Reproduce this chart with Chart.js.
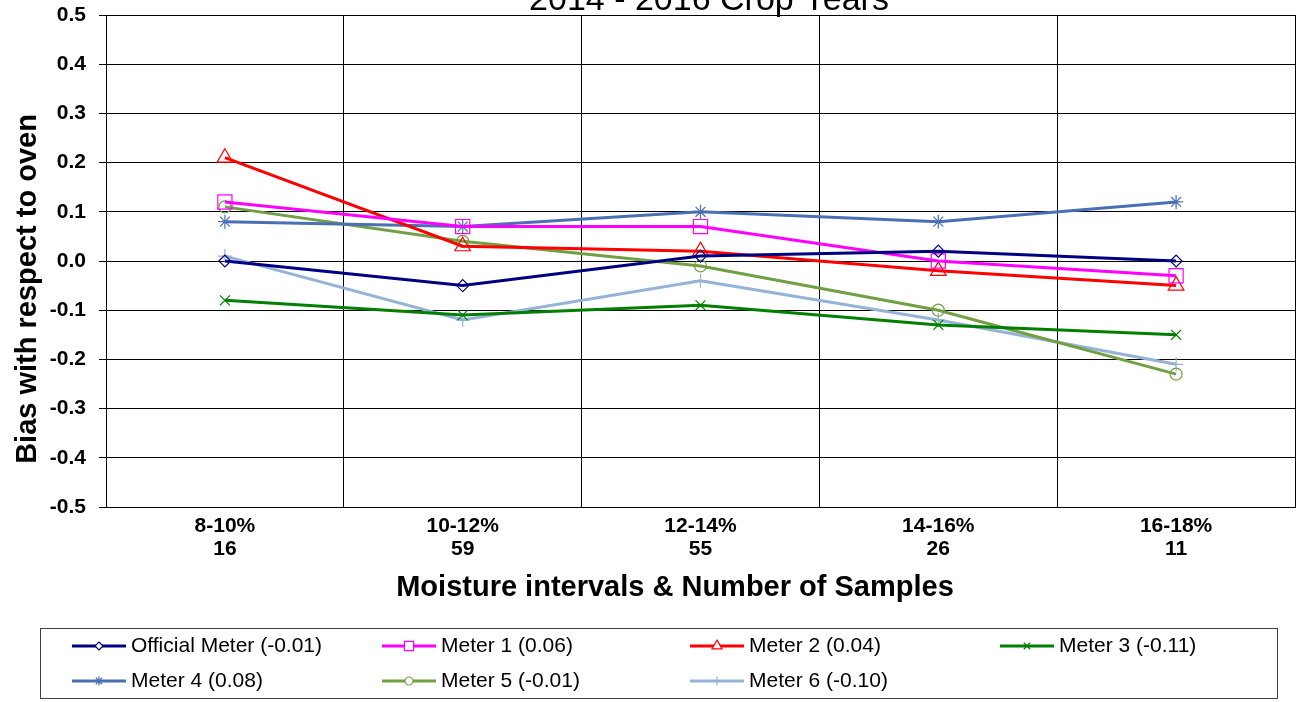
<!DOCTYPE html>
<html>
<head>
<meta charset="utf-8">
<script src="https://cdn.jsdelivr.net/npm/chart.js@4/dist/chart.umd.min.js"></script>
<style>
  html, body { margin: 0; padding: 0; background: #fff; }
  #wrap { width: 1297px; height: 702px; }
</style>
</head>
<body>
<div id="wrap"><canvas id="myChart" width="1297" height="702"></canvas></div>
<script>
// chart data
const moistureRanges = ["8-10%", "10-12%", "12-14%", "14-16%", "16-18%"];
const sampleCounts = ["16", "59", "55", "26", "11"];
const meterNames = ["Official Meter", "Meter 1", "Meter 2", "Meter 3", "Meter 4", "Meter 5", "Meter 6"];
const meterAvgBias = ["-0.01", "0.06", "0.04", "-0.11", "0.08", "-0.01", "-0.10"];

const officialMeter = [0.00, -0.05, 0.01, 0.02, 0.00];
const meter1 = [0.12, 0.07, 0.07, 0.00, -0.03];
const meter2 = [0.21, 0.03, 0.02, -0.02, -0.05];
const meter3 = [-0.08, -0.11, -0.09, -0.13, -0.15];
const meter4 = [0.08, 0.07, 0.10, 0.08, 0.12];
const meter5 = [0.11, 0.04, -0.01, -0.10, -0.23];
const meter6 = [0.01, -0.12, -0.04, -0.12, -0.21];

const yTicks = [0.5, 0.4, 0.3, 0.2, 0.1, 0.0, -0.1, -0.2, -0.3, -0.4, -0.5];

const FONT = "'Liberation Sans', Arial, sans-serif";

// line styles per meter
const styles = [
  { color: "#000080", point: "rectRot", radius: 6 },
  { color: "#FF00FF", point: "rect", radius: 10 },
  { color: "#FF0000", point: "triangle", radius: 9 },
  { color: "#008000", point: "crossRot", radius: 7 },
  { color: "#4A6FB5", point: "star", radius: 7 },
  { color: "#71A044", point: "circle", radius: 6 },
  { color: "#95B3D7", point: "cross", radius: 7 },
];

const seriesData = [officialMeter, meter1, meter2, meter3, meter4, meter5, meter6];

const datasets = seriesData.map(function (values, i) {
  return {
    label: meterNames[i] + " (" + meterAvgBias[i] + ")",
    data: values,
    borderColor: styles[i].color,
    backgroundColor: "transparent",
    borderWidth: 3,
    pointStyle: styles[i].point,
    pointRadius: styles[i].radius,
    pointBorderColor: styles[i].color,
    pointBackgroundColor: "transparent",
    pointBorderWidth: 1.2,
    tension: 0,
    fill: false,
  };
});

// draws the cut-off heading, the axis titles and the boxed legend
const extrasPlugin = {
  id: "extras",
  afterDraw(chart) {
    const ctx = chart.ctx;
    ctx.save();
    // heading, partly above the canvas like the reference
    ctx.fillStyle = "#000";
    ctx.font = "34px " + FONT;
    ctx.textAlign = "center";
    ctx.textBaseline = "alphabetic";
    ctx.fillText("2014 - 2016 Crop Years", 709, 10);

    // x axis title
    ctx.font = "bold 29px " + FONT;
    ctx.textBaseline = "middle";
    ctx.fillText("Moisture intervals & Number of Samples", 675, 588);

    // y axis title
    ctx.save();
    ctx.translate(28, 289);
    ctx.rotate(-Math.PI / 2);
    ctx.fillText("Bias with respect to oven", 0, 0);
    ctx.restore();

    // legend box
    ctx.strokeStyle = "#404040";
    ctx.lineWidth = 1;
    ctx.strokeRect(40.5, 628.5, 1237, 70);

    const colX = [72, 382, 690, 1000];
    const rowY = [646, 681];
    chart.data.datasets.forEach(function (ds, i) {
      const x = colX[i % 4];
      const y = rowY[Math.floor(i / 4)];
      ctx.strokeStyle = ds.borderColor;
      ctx.lineWidth = 3;
      ctx.beginPath();
      ctx.moveTo(x, y);
      ctx.lineTo(x + 54, y);
      ctx.stroke();
      if (Chart.helpers && Chart.helpers.drawPoint) {
        ctx.lineWidth = 1.2;
        ctx.fillStyle = "#fff";
        Chart.helpers.drawPoint(ctx, {
          pointStyle: ds.pointStyle,
          radius: Math.max(4, ds.pointRadius * 0.65),
          rotation: 0,
          borderWidth: 1.2,
        }, x + 27, y);
      }
      ctx.fillStyle = "#000";
      ctx.font = "21px " + FONT;
      ctx.textAlign = "left";
      ctx.textBaseline = "middle";
      ctx.fillText(ds.label, x + 59, y);
    });
    ctx.restore();
  },
};

const ctx = document.getElementById("myChart").getContext("2d");

const myChart = new Chart(ctx, {
  type: "line",
  data: {
    labels: moistureRanges.map(function (r, i) { return [r, sampleCounts[i]]; }),
    datasets: datasets,
  },
  options: {
    responsive: false,
    animation: false,
    layout: { autoPadding: false, padding: { top: 15, right: 2, bottom: 92, left: 0 } },
    plugins: {
      legend: { display: false },
      title: { display: false },
      tooltip: { enabled: false },
    },
    scales: {
      x: {
        offset: true,
        grid: { display: true, offset: true, color: "#000", lineWidth: 1, drawTicks: false },
        border: { display: true, color: "#000", width: 1 },
        ticks: {
          color: "#000",
          font: { family: FONT, size: 21, weight: "bold", lineHeight: 1.1 },
          padding: 8,
          maxRotation: 0,
          autoSkip: false,
        },
        afterFit(scale) {
          scale.height = 103;
          scale.paddingLeft = 0;
          scale.paddingRight = 0;
        },
      },
      y: {
        min: -0.5,
        max: 0.5,
        afterBuildTicks(scale) {
          scale.ticks = yTicks.map(function (v) { return { value: v }; });
        },
        grid: { color: "#000", lineWidth: 1, drawTicks: true, tickLength: 7 },
        border: { display: true, color: "#000", width: 1 },
        ticks: {
          color: "#000",
          font: { family: FONT, size: 21, weight: "bold" },
          padding: 13,
          callback: function (v) { return Number(v).toFixed(1); },
        },
        afterFit(scale) {
          scale.width = 106;
          scale.paddingTop = 0;
          scale.paddingBottom = 0;
        },
      },
    },
  },
  plugins: [extrasPlugin],
});
</script>
</body>
</html>
